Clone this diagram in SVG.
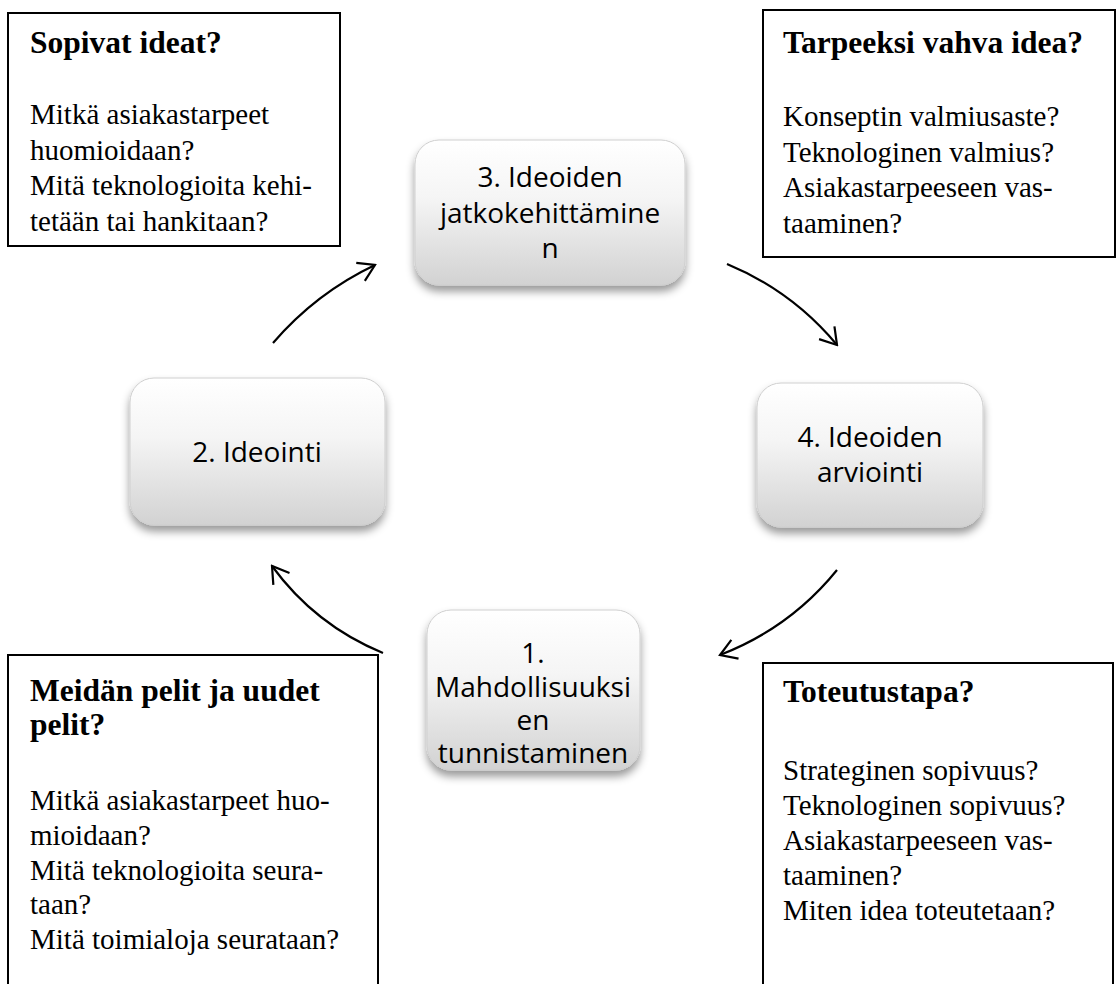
<svg xmlns="http://www.w3.org/2000/svg" width="1117" height="984" viewBox="0 0 1117 984">
<style>
.box{fill:#fff;stroke:#000;stroke-width:2}
.ttl{font-family:"Liberation Serif",serif;font-size:31.5px;font-weight:bold;fill:#000}
.bd{font-family:"Liberation Serif",serif;font-size:29px;fill:#000}
.node{fill:url(#ng);stroke:#cfcfcf;stroke-width:1;filter:url(#sh)}
.nt{font-family:"Open Sans",sans-serif;font-size:28px;fill:#000;text-anchor:middle}
.arr{fill:none;stroke:#000;stroke-width:2.2;marker-end:url(#ah)}
</style>
<defs>
<linearGradient id="ng" x1="0" y1="0" x2="0" y2="1">
<stop offset="0" stop-color="#ffffff"/>
<stop offset="0.4" stop-color="#f5f5f5"/>
<stop offset="1" stop-color="#d2d2d2"/>
</linearGradient>
<filter id="sh" x="-20%" y="-20%" width="140%" height="150%">
<feDropShadow dx="0" dy="6" stdDeviation="4" flood-color="#000" flood-opacity="0.4"/>
</filter>
<marker id="ah" markerUnits="userSpaceOnUse" viewBox="0 0 20 24" markerWidth="20" markerHeight="24" refX="18" refY="12" orient="auto">
<path d="M2,2 L18,12 L2,22" fill="none" stroke="#000" stroke-width="2.2"/>
</marker>
</defs>
<rect width="1117" height="984" fill="#fff"/>

<g id="box-sopivat">
<rect class="box" x="8" y="13" width="332" height="233"/>
<text class="ttl" x="30" y="53">Sopivat ideat?</text>
<text class="bd" x="30" y="124">Mitkä asiakastarpeet</text>
<text class="bd" x="30" y="159.5">huomioidaan?</text>
<text class="bd" x="30" y="195">Mitä teknologioita kehi-</text>
<text class="bd" x="30" y="230.5">tetään tai hankitaan?</text>
</g>

<g id="box-tarpeeksi">
<rect class="box" x="763" y="10" width="352" height="247"/>
<text class="ttl" x="783" y="53">Tarpeeksi vahva idea?</text>
<text class="bd" x="783" y="126">Konseptin valmiusaste?</text>
<text class="bd" x="783" y="161.5">Teknologinen valmius?</text>
<text class="bd" x="783" y="197">Asiakastarpeeseen vas-</text>
<text class="bd" x="783" y="232.5">taaminen?</text>
</g>

<g id="box-meidan">
<rect class="box" x="8" y="655" width="370" height="360"/>
<text class="ttl" x="30" y="701">Meidän pelit ja uudet</text>
<text class="ttl" x="30" y="735">pelit?</text>
<text class="bd" x="30" y="810">Mitkä asiakastarpeet huo-</text>
<text class="bd" x="30" y="845">mioidaan?</text>
<text class="bd" x="30" y="880">Mitä teknologioita seura-</text>
<text class="bd" x="30" y="914">taan?</text>
<text class="bd" x="30" y="949">Mitä toimialoja seurataan?</text>
</g>

<g id="box-toteutustapa">
<rect class="box" x="763" y="663" width="350" height="360"/>
<text class="ttl" x="783" y="702">Toteutustapa?</text>
<text class="bd" x="783" y="780">Strateginen sopivuus?</text>
<text class="bd" x="783" y="815">Teknologinen sopivuus?</text>
<text class="bd" x="783" y="850">Asiakastarpeeseen vas-</text>
<text class="bd" x="783" y="885">taaminen?</text>
<text class="bd" x="783" y="920">Miten idea toteutetaan?</text>
</g>

<g id="node-3">
<rect class="node" x="415" y="140" width="270" height="145" rx="24"/>
<text class="nt" x="550" y="187">3. Ideoiden</text>
<text class="nt" x="550" y="222.5">jatkokehittämine</text>
<text class="nt" x="550" y="258">n</text>
</g>

<g id="node-2">
<rect class="node" x="130" y="378" width="255" height="147" rx="24"/>
<text class="nt" x="257" y="462">2. Ideointi</text>
</g>

<g id="node-4">
<rect class="node" x="757" y="383" width="226" height="144" rx="24"/>
<text class="nt" x="870" y="447">4. Ideoiden</text>
<text class="nt" x="870" y="482">arviointi</text>
</g>

<g id="node-1">
<rect class="node" x="427" y="610" width="213" height="160" rx="24"/>
<text class="nt" x="533" y="663">1.</text>
<text class="nt" x="533" y="697">Mahdollisuuksi</text>
<text class="nt" x="533" y="730">en</text>
<text class="nt" x="533" y="763">tunnistaminen</text>
</g>

<g id="connectors">
<path class="arr" d="M273,343 Q316,293 375,265"/>
<path class="arr" d="M727,264 Q792,291 837,345"/>
<path class="arr" d="M837,570 Q790,628 720,655"/>
<path class="arr" d="M383,653 Q315,625 272,566"/>
</g>
</svg>
